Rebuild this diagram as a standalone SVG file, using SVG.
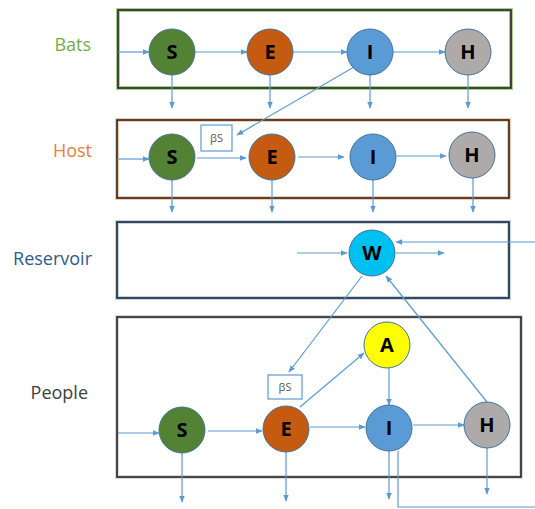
<svg xmlns="http://www.w3.org/2000/svg" width="535" height="509" viewBox="0 0 535 509">
<style>
.lbl{font-family:"Open Sans","Liberation Sans",sans-serif;font-size:18px;text-anchor:end}
.ltr{font-family:"Open Sans","Liberation Sans",sans-serif;font-size:20px;font-weight:bold;text-anchor:middle;fill:#000}
.nd{stroke:#41719c;stroke-width:1}
.cn line,.cn polyline{stroke:#5b9bd5;stroke-width:1.2;fill:none}
.box{fill:none;stroke:#222;stroke-width:1.6}
.bs{fill:#fff;stroke:#5b9bd5;stroke-width:1.2}
.bst{font-family:"Open Sans","Liberation Sans",sans-serif;font-size:11px;fill:#595959;text-anchor:middle}
</style>
<defs>
<marker id="ah" viewBox="0 0 10 10" refX="9" refY="5" markerWidth="7" markerHeight="7" orient="auto" markerUnits="userSpaceOnUse">
<path d="M0,1 L10,5 L0,9 z" fill="#5b9bd5"/>
</marker>
</defs>
<rect width="535" height="509" fill="#fff"/>

<g id="bats-box">
<rect x="118" y="10" width="393" height="78" fill="none" stroke="#a9d18e" stroke-width="4"/>
<rect x="118" y="10" width="393" height="78" class="box"/>
<text x="91" y="51" class="lbl" fill="#70ad47">Bats</text>
</g>
<g id="host-box">
<rect x="117" y="120" width="392" height="78" fill="none" stroke="#f8cbad" stroke-width="4"/>
<rect x="117" y="120" width="392" height="78" class="box"/>
<text x="92" y="157" class="lbl" fill="#ed7d31">Host</text>
</g>
<g id="reservoir-box">
<rect x="117" y="222" width="392" height="76" fill="none" stroke="#bdd7ee" stroke-width="4"/>
<rect x="117" y="222" width="392" height="76" class="box" stroke="#1f2a3a"/>
<text x="92" y="265" class="lbl" fill="#2e5c8a">Reservoir</text>
</g>
<g id="people-box">
<rect x="117" y="317" width="404" height="160" fill="none" stroke="#d9d9d9" stroke-width="4"/>
<rect x="117" y="317" width="404" height="160" class="box" stroke="#333"/>
<text x="88" y="399" class="lbl" fill="#404040">People</text>
</g>

<g class="cn" id="connectors">
<line x1="118" y1="52" x2="149" y2="52" marker-end="url(#ah)"/>
<line x1="195" y1="52" x2="247" y2="52" marker-end="url(#ah)"/>
<line x1="293" y1="52" x2="347" y2="52" marker-end="url(#ah)"/>
<line x1="393" y1="52" x2="445" y2="52" marker-end="url(#ah)"/>
<line x1="172" y1="75" x2="172" y2="108" marker-end="url(#ah)"/>
<line x1="270" y1="75" x2="270" y2="108" marker-end="url(#ah)"/>
<line x1="370" y1="75" x2="370" y2="108" marker-end="url(#ah)"/>
<line x1="468" y1="75" x2="468" y2="108" marker-end="url(#ah)"/>
<line x1="354" y1="67" x2="237" y2="135" marker-end="url(#ah)"/>
<line x1="117" y1="159" x2="149" y2="159" marker-end="url(#ah)"/>
<line x1="197" y1="158" x2="246" y2="158" marker-end="url(#ah)"/>
<line x1="298" y1="157" x2="344" y2="157" marker-end="url(#ah)"/>
<line x1="397" y1="156" x2="446" y2="156" marker-end="url(#ah)"/>
<line x1="172" y1="180" x2="172" y2="212" marker-end="url(#ah)"/>
<line x1="272" y1="180" x2="272" y2="212" marker-end="url(#ah)"/>
<line x1="373" y1="180" x2="373" y2="212" marker-end="url(#ah)"/>
<line x1="473" y1="178" x2="473" y2="212" marker-end="url(#ah)"/>
<line x1="297" y1="253" x2="347" y2="253" marker-end="url(#ah)"/>
<line x1="396" y1="253" x2="444" y2="253" marker-end="url(#ah)"/>
<line x1="535" y1="242" x2="396" y2="242" marker-end="url(#ah)"/>
<line x1="362" y1="276" x2="289" y2="372" marker-end="url(#ah)"/>
<line x1="487" y1="402" x2="386" y2="276" marker-end="url(#ah)"/>
<line x1="118" y1="433" x2="159" y2="433" marker-end="url(#ah)"/>
<line x1="208" y1="431" x2="262" y2="431" marker-end="url(#ah)"/>
<line x1="310" y1="427" x2="365" y2="427" marker-end="url(#ah)"/>
<line x1="413" y1="425" x2="464" y2="425" marker-end="url(#ah)"/>
<line x1="300" y1="407" x2="364" y2="353" marker-end="url(#ah)"/>
<line x1="389" y1="368" x2="389" y2="405" marker-end="url(#ah)"/>
<line x1="182" y1="453" x2="182" y2="502" marker-end="url(#ah)"/>
<line x1="286" y1="452" x2="286" y2="501" marker-end="url(#ah)"/>
<line x1="389" y1="451" x2="389" y2="499" marker-end="url(#ah)"/>
<line x1="487" y1="448" x2="487" y2="494" marker-end="url(#ah)"/>
<polyline points="398,451 398,507 535,507"/>
</g>

<g id="beta-host"><rect x="201" y="125" width="31" height="26" class="bs"/><text x="216.5" y="142" class="bst">βS</text></g>
<g id="beta-people"><rect x="268" y="375" width="34" height="24" class="bs"/><text x="285" y="391" class="bst">βS</text></g>

<g id="bats-S"><circle cx="172" cy="52" r="23" fill="#548235" class="nd"/><text x="172" y="59" class="ltr">S</text></g>
<g id="bats-E"><circle cx="270" cy="52" r="23" fill="#c55a11" class="nd"/><text x="270" y="59" class="ltr">E</text></g>
<g id="bats-I"><circle cx="370" cy="52" r="23" fill="#5b9bd5" class="nd"/><text x="370" y="59" class="ltr">I</text></g>
<g id="bats-H"><circle cx="468" cy="52" r="23" fill="#aeaaaa" class="nd"/><text x="468" y="59" class="ltr">H</text></g>

<g id="host-S"><circle cx="172" cy="157" r="23" fill="#548235" class="nd"/><text x="172" y="164" class="ltr">S</text></g>
<g id="host-E"><circle cx="272" cy="157" r="23" fill="#c55a11" class="nd"/><text x="272" y="164" class="ltr">E</text></g>
<g id="host-I"><circle cx="373" cy="157" r="23" fill="#5b9bd5" class="nd"/><text x="373" y="164" class="ltr">I</text></g>
<g id="host-H"><circle cx="472" cy="155" r="23" fill="#aeaaaa" class="nd"/><text x="472" y="162" class="ltr">H</text></g>

<g id="reservoir-W"><circle cx="372" cy="253" r="23" fill="#00c0f0" class="nd"/><text x="372" y="260" class="ltr">W</text></g>

<g id="people-S"><circle cx="182" cy="430" r="23" fill="#548235" class="nd"/><text x="182" y="437" class="ltr">S</text></g>
<g id="people-E"><circle cx="286" cy="429" r="23" fill="#c55a11" class="nd"/><text x="286" y="436" class="ltr">E</text></g>
<g id="people-I"><circle cx="389" cy="428" r="23" fill="#5b9bd5" class="nd"/><text x="389" y="435" class="ltr">I</text></g>
<g id="people-H"><circle cx="487" cy="425" r="23" fill="#aeaaaa" class="nd"/><text x="487" y="432" class="ltr">H</text></g>
<g id="people-A"><circle cx="387" cy="345" r="23" fill="#ffff00" class="nd"/><text x="387" y="352" class="ltr">A</text></g>
</svg>
